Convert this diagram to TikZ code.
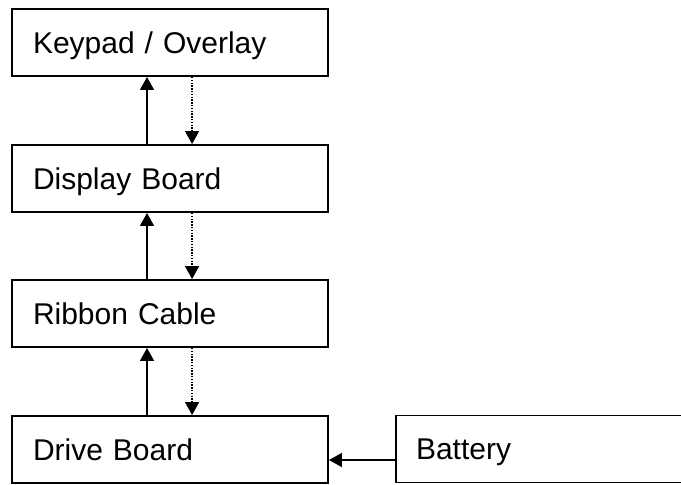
\documentclass[tikz,border=0pt]{standalone}
\usepackage{fontspec}
\setmainfont{Liberation Sans}
\usetikzlibrary{arrows.meta}

\tikzset{
  block/.style={draw, line width=1.9pt, rectangle, minimum width=316pt,
    minimum height=67pt, inner xsep=21pt, inner ysep=0pt,
    text width=274pt, align=left, text height=21.3pt, text depth=0pt,
    font=\fontsize{30}{34}\selectfont},
  signal/.style={line width=1.5pt, -{Triangle[length=13pt,width=14pt]}},
  feedback/.style={line width=1.5pt, dash pattern=on 1.4pt off 1.4pt,
    -{Triangle[length=13pt,width=14pt]}}
}

\begin{document}
\begin{tikzpicture}[x=1pt, y=-1pt]
  \useasboundingbox (0,0) rectangle (681,485);

  % stack of boards, top to bottom
  \node[block] (kp)  at (170,42.5)  {Keypad / Overlay};
  \node[block] (db)  at (170,178.5) {Display Board};
  \node[block] (rc)  at (170,313.5) {Ribbon Cable};
  \node[block] (drv) at (170,449.5) {Drive Board};
  \node[block, inner xsep=20pt, text width=276pt] (bat) at (554,449) {Battery};

  % upward signal paths (solid) and downward paths (dotted)
  \draw[signal]   ([xshift=136pt]db.north west)  -- ([xshift=136pt]kp.south west);
  \draw[feedback] ([xshift=181pt]kp.south west)  -- ([xshift=181pt]db.north west);
  \draw[signal]   ([xshift=136pt]rc.north west)  -- ([xshift=136pt]db.south west);
  \draw[feedback] ([xshift=181pt]db.south west)  -- ([xshift=181pt]rc.north west);
  \draw[signal]   ([xshift=136pt]drv.north west) -- ([xshift=136pt]rc.south west);
  \draw[feedback] ([xshift=181pt]rc.south west)  -- ([xshift=181pt]drv.north west);

  % power feed from the battery
  \draw[signal] ([yshift=-11pt]bat.west) -- ([yshift=-10.5pt]drv.east);
\end{tikzpicture}
\end{document}
